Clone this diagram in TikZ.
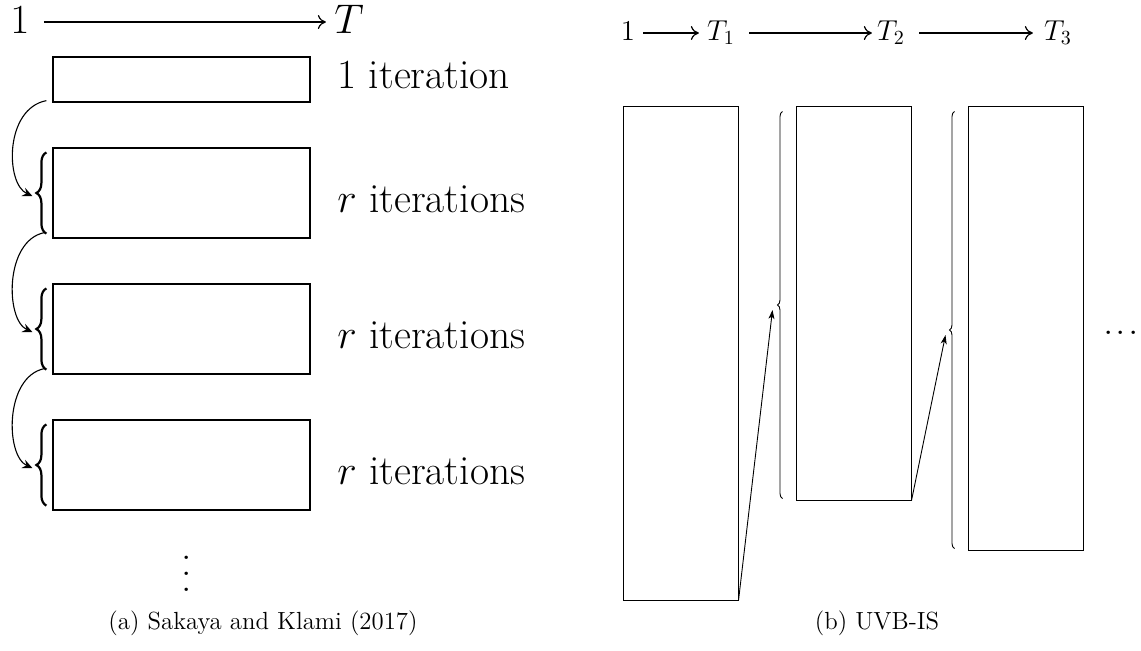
\documentclass[tikz,border=0pt]{standalone}
\usetikzlibrary{arrows.meta,decorations.pathreplacing,calc}

\tikzset{
  bigtext/.style={font=\fontsize{20.74}{24}\selectfont, inner sep=0pt},
  midtext/.style={font=\fontsize{14.4}{17}\selectfont, inner sep=0pt},
  captext/.style={font=\fontsize{12.4}{15}\selectfont, inner sep=0pt},
  lbox/.style={draw, line width=0.6pt, minimum width=128.5pt, inner sep=0pt},
  rbox/.style={draw, line width=0.5pt, minimum width=57.5pt, inner sep=0pt},
  lbrace/.style={decorate, decoration={brace, amplitude=5pt}, line width=1.1pt},
  rbrace/.style={decorate, decoration={brace, amplitude=2.5pt}, line width=0.45pt},
  timeline/.style={line width=0.6pt, -{Computer Modern Rightarrow[length=4pt,width=7pt]}},
  hop/.style={line width=0.55pt, -{Stealth[length=5pt,width=4.5pt,inset=1.8pt]}},
  jump/.style={line width=0.45pt, -{Stealth[length=4.5pt,width=3pt,inset=1.2pt]}},
}

\begin{document}
\begin{tikzpicture}[x=0.5pt,y=-0.5pt]
\useasboundingbox (0,0) rectangle (1141,650);

% ---------- (a) fixed schedule ----------
\node[bigtext, anchor=base] (a1) at (20,33) {$1$};
\node[bigtext, anchor=base] (aT) at (349,33) {$T$};
\draw[timeline, shorten <=7pt, shorten >=4pt] (a1.east |- 0,22) -- (aT.west |- 0,22);

\node[lbox, minimum height=22.5pt] (b1) at (181.5,79.5) {};
\node[lbox, minimum height=45pt]   (b2) at (181.5,193) {};
\node[lbox, minimum height=45pt]   (b3) at (181.5,329) {};
\node[lbox, minimum height=45pt]   (b4) at (181.5,465) {};

\node[bigtext, anchor=base west] (t1) at (337,88)  {1 iteration};
\node[bigtext, anchor=base west] (t2) at (337,212) {$r$ iterations};
\node[bigtext, anchor=base west] (t3) at (337,348) {$r$ iterations};
\node[bigtext, anchor=base west] (t4) at (337,484) {$r$ iterations};

% braces in front of the repeated blocks
\foreach \b in {b2,b3,b4}{
  \draw[lbrace] ($(\b.south west)+(-6,-5)$) -- ($(\b.north west)+(-6,5)$);
  \coordinate (\b tip) at ($(\b.west)+(-20,3)$);
  \coordinate (\b end) at ($(\b.south west)+(-8,-6)$);
}
\coordinate (b1end) at ($(b1.south west)+(-6,-2)$);

\draw[hop] (b1end) .. controls ($(b1end)+(-42,8)$) and ($(b2tip)+(-27,-12)$) .. (b2tip);
\draw[hop] (b2end) .. controls ($(b2end)+(-40,8)$) and ($(b3tip)+(-27,-12)$) .. (b3tip);
\draw[hop] (b3end) .. controls ($(b3end)+(-40,8)$) and ($(b4tip)+(-27,-12)$) .. (b4tip);

\node[font=\fontsize{20.74}{24}\selectfont, inner sep=0pt, anchor=base] (vd) at (187,591)
  {\vbox{\baselineskip=7.8pt\hbox{.}\hbox{.}\hbox{.}}};

\node[captext] (capa) at (263,623) {(a) Sakaya and Klami (2017)};

% ---------- (b) UVB-IS ----------
\node[midtext, anchor=base] (r1) at (628,40)  {$1$};
\node[midtext, anchor=base] (rT1) at (721,40) {$T_1$};
\node[midtext, anchor=base] (rT2) at (891,40) {$T_2$};
\node[midtext, anchor=base] (rT3) at (1058,40) {$T_3$};
\draw[timeline] ($(r1.east |- 0,33)+(8,0)$)  -- ($(rT1.west |- 0,33)+(-8,0)$);
\draw[timeline] ($(rT1.east |- 0,33)+(14,0)$) -- ($(rT2.west |- 0,33)+(-5,0)$);
\draw[timeline] ($(rT2.east |- 0,33)+(14,0)$) -- ($(rT3.west |- 0,33)+(-11,0)$);

\node[rbox, minimum height=247pt] (c1) at (680.5,353)  {};
\node[rbox, minimum height=197pt] (c2) at (853.5,303)  {};
\node[rbox, minimum height=222pt] (c3) at (1025.5,328) {};

\draw[rbrace] ($(c2.south west)+(-13,-2)$) -- ($(c2.north west)+(-13,6)$)
  coordinate[midway] (c2mid);
\draw[rbrace] ($(c3.south west)+(-13,-2)$) -- ($(c3.north west)+(-13,6)$)
  coordinate[midway] (c3mid);
\coordinate (c2tip) at ($(c2mid)+(-10,5)$);
\coordinate (c3tip) at ($(c3mid)+(-9,5)$);

\draw[jump] (c1.south east) -- (c2tip);
\draw[jump] (c2.south east) -- (c3tip);

\node[font=\fontsize{20.74}{24}\selectfont, inner sep=0pt, anchor=base] (more) at (1121,334)
  {.\kern1pt.\kern1pt.};

\node[captext] (capb) at (877,623) {(b) UVB-IS};
\end{tikzpicture}
\end{document}
